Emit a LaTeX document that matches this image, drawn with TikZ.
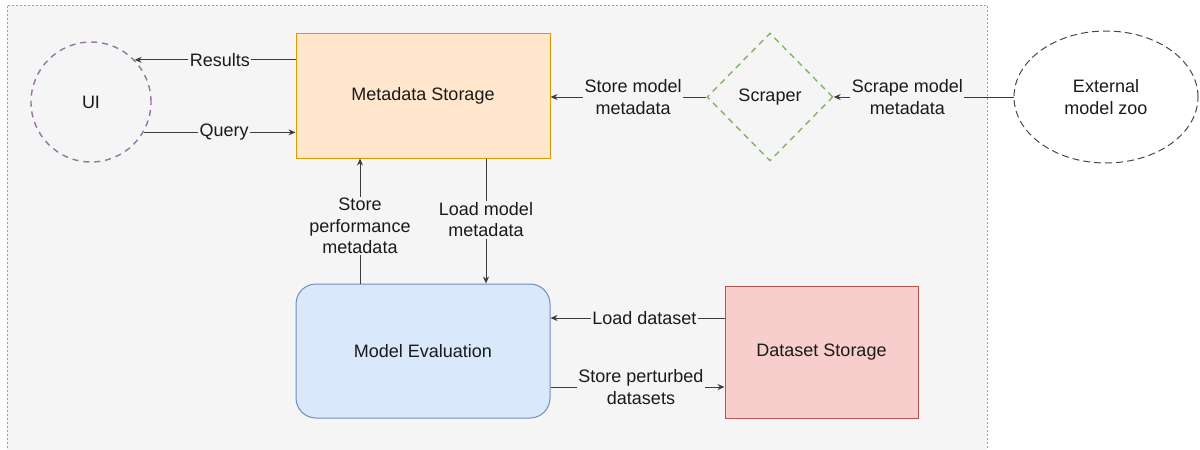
\documentclass[tikz,border=0pt]{standalone}
\usepackage{fontspec}
\setmainfont{Liberation Sans}
\usetikzlibrary{shapes.geometric,arrows.meta,calc}

\definecolor{panel}{HTML}{F5F5F5}
\definecolor{panelline}{HTML}{A0A0A0}
\definecolor{uiline}{HTML}{9673A6}
\definecolor{scrline}{HTML}{82B366}
\definecolor{metafill}{HTML}{FFE6CC}
\definecolor{metaline}{HTML}{D79B00}
\definecolor{evalfill}{HTML}{DAE8FC}
\definecolor{evalline}{HTML}{6C8EBF}
\definecolor{dsfill}{HTML}{F8CECC}
\definecolor{dsline}{HTML}{B85450}
\definecolor{ink}{HTML}{1A1A1A}

\tikzset{
  txt/.style={font=\fontsize{18}{21.5}\selectfont, text=ink, align=center},
  box/.style={txt, draw, line width=1pt, inner sep=0pt},
  arr/.style={draw=ink!85, line width=0.9pt, -{Stealth[length=7pt,width=6pt]}},
  lbl/.style={txt, fill=panel, inner sep=1.5pt},
}

\begin{document}
\begin{tikzpicture}[x=1pt, y=-1pt]
  \useasboundingbox (0,0) rectangle (1200,450);

  % grey panel holding the internal components
  \fill[panel] (7,5) rectangle (987,452);
  \draw[panelline, line width=0.7pt, dash pattern=on 2pt off 2pt]
    (7,452) -- (7,5) -- (987,5) -- (987,452);

  % components
  \node[box, circle, draw=uiline, line width=1.4pt, dash pattern=on 6pt off 5pt,
        minimum size=120pt] (ui) at (91,102) {UI};
  \node[box, rectangle, draw=metaline, fill=metafill,
        minimum width=254pt, minimum height=125pt] (meta) at (423,95.5) {Metadata Storage};
  \node[box, diamond, aspect=1, draw=scrline, line width=1.4pt, dash pattern=on 6pt off 5pt,
        minimum width=126pt, minimum height=128pt] (scr) at (770,97) {Scraper};
  \node[box, ellipse, draw=ink!80, dash pattern=on 7pt off 4pt, line width=1pt,
        minimum width=184pt, minimum height=132pt] (zoo) at (1106,97) {External\\model zoo};
  \node[box, rectangle, rounded corners=20pt, draw=evalline, fill=evalfill,
        minimum width=254pt, minimum height=134pt] (ev) at (423,351) {Model Evaluation};
  \node[box, rectangle, draw=dsline, fill=dsfill,
        minimum width=193pt, minimum height=132pt] (ds) at (821.5,352) {Dataset Storage};

  % connectors
  \draw[arr] (meta.west |- ui.44) -- node[lbl, pos=0.47] {Results} (ui.44);
  \draw[arr] (ui.-30) -- node[lbl, pos=0.53] {Query} (ui.-30 -| meta.west);
  \draw[arr] (scr.west) -- node[lbl, pos=0.47] {Store model\\metadata} (scr.west -| meta.east);
  \draw[arr] (zoo.west) -- node[lbl, pos=0.59] {Scrape model\\metadata} (scr.east);
  \draw[arr] ([xshift=-63pt]ev.north) -- node[lbl, pos=0.46] {Store\\performance\\metadata} ([xshift=-63pt]meta.south);
  \draw[arr] ([xshift=63pt]meta.south) -- node[lbl, pos=0.49] {Load model\\metadata} ([xshift=63pt]ev.north);
  \draw[arr] ([yshift=34pt]ds.west) -- node[lbl, pos=0.46] {Load dataset} ([yshift=34pt]ds.west -| ev.east);
  \draw[arr] ([yshift=-35pt]ds.west -| ev.east) -- node[lbl, pos=0.52] {Store perturbed\\datasets} ([yshift=-35pt]ds.west);
\end{tikzpicture}
\end{document}
